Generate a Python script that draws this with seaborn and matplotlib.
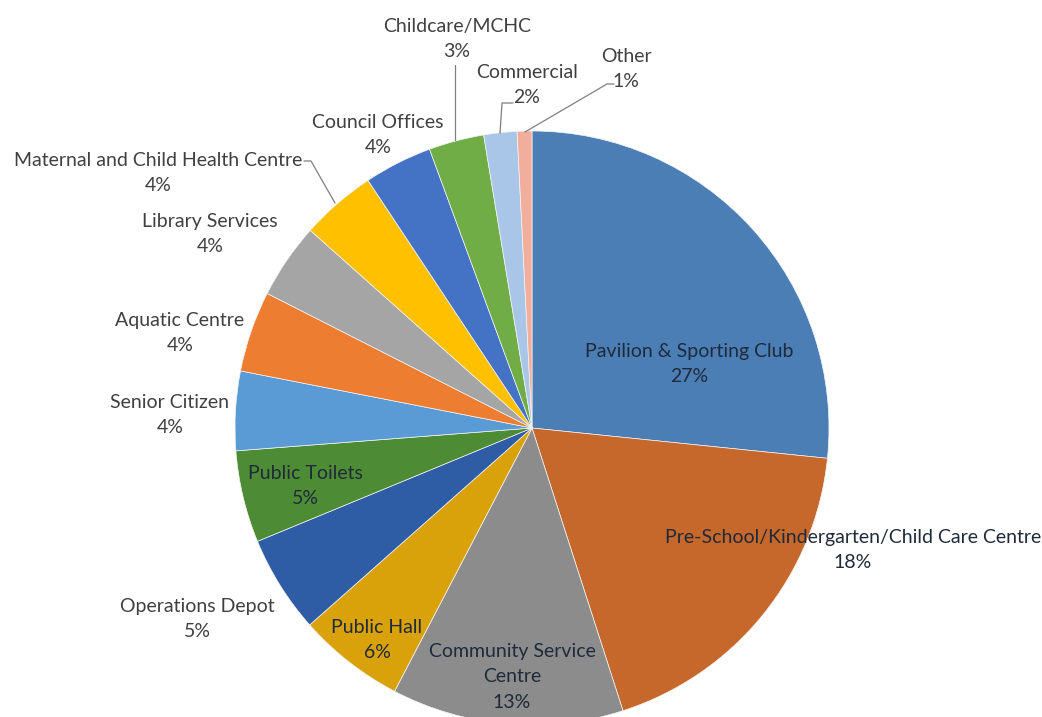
import matplotlib
matplotlib.use("Agg")
import matplotlib.pyplot as plt
import seaborn as sns

# Data (share of buildings by type)
categories = [
    "Pavilion & Sporting Club",
    "Pre-School/Kindergarten/Child Care Centre",
    "Community Service\nCentre",
    "Public Hall",
    "Operations Depot",
    "Public Toilets",
    "Senior Citizen",
    "Aquatic Centre",
    "Library Services",
    "Maternal and Child Health Centre",
    "Council Offices",
    "Childcare/MCHC",
    "Commercial",
    "Other",
]
shares = [26.6, 18.4, 12.6, 5.8, 5.3, 5.0, 4.3, 4.4, 4.1, 4.1, 3.7, 3.0, 1.8, 0.8]

colors = [
    "#4A7EB5", "#C6672B", "#8C8C8C", "#D9A20B", "#2F5DA5", "#4E8B35", "#5B9BD5",
    "#ED7D31", "#A5A5A5", "#FFC000", "#4472C4", "#70AD47", "#A9C6E8", "#F2AE9C",
]

# label centres in pixels of the 1042x717 image (layout only)
label_px = [
    (689, 364), (853, 550), (512, 677), (377, 640), (197, 619), (305, 486),
    (170, 415), (180, 333), (210, 234), (158, 173), (378, 135), (457, 39),
    (527, 85), (626, 69),
]
inside = [True, True, True, True, False, True, False, False, False, False,
          False, False, False, False]

# leader lines in pixels
leaders = [
    [(304, 161), (311, 161), (335, 203)],
    [(455, 65), (455, 140)],
    [(513, 103), (502, 103), (500, 133)],
    [(614, 84), (607, 84), (525, 132)],
]

W, H = 1042, 717
CX, CY, R = 532, 428, 297


def to_data(p):
    return ((p[0] - CX) / R, (CY - p[1]) / R)


sns.set_theme(style="white")
plt.rcParams["font.family"] = ["Lato", "DejaVu Sans"]

fig = plt.figure(figsize=(W / 100, H / 100), dpi=100)
ax = fig.add_axes([0, 0, 1, 1])

ax.pie(
    shares,
    colors=sns.color_palette(colors),
    startangle=90,
    counterclock=False,
    radius=1.0,
    wedgeprops=dict(edgecolor="#f4f4f4", linewidth=0.5),
)
ax.set_aspect("auto")
ax.set_xlim(-CX / R, (W - CX) / R)
ax.set_ylim(-(H - CY) / R, CY / R)
ax.axis("off")

for name, val, pos, ins in zip(categories, shares, label_px, inside):
    x, y = to_data(pos)
    ax.text(x, y, f"{name}\n{val:.0f}%", ha="center", va="center",
            fontsize=14, linespacing=1.6,
            color="#1f2a3a" if ins else "#404040")

for line in leaders:
    pts = [to_data(p) for p in line]
    ax.plot([p[0] for p in pts], [p[1] for p in pts], color="#7f7f7f", lw=0.9)

fig.savefig("out.png", dpi=100, facecolor="white")
